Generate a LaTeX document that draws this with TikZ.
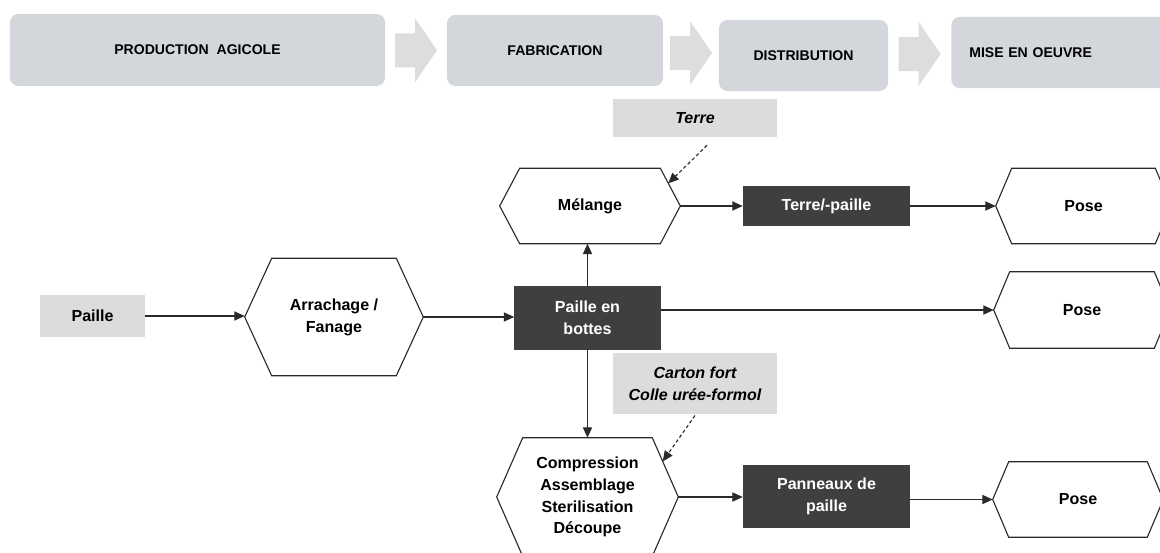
\documentclass[tikz,border=0pt]{standalone}
\usepackage{fontspec}
\setmainfont{Liberation Sans}
\usepackage{tikz}
\usetikzlibrary{calc,positioning,arrows.meta}
\definecolor{StageGray}{HTML}{D3D7DB}
\definecolor{StageArrow}{HTML}{DDDDDD}
\definecolor{InputGray}{HTML}{DCDCDC}
\definecolor{ProductDark}{HTML}{3F3F3F}
\definecolor{LineDark}{HTML}{2A2A2A}

\newcommand{\bodyfont}{\fontsize{11.4}{15.5}\selectfont\bfseries}
\newcommand{\stagefont}{\fontsize{10}{12}\selectfont\bfseries}

\tikzset{
  stage/.style={rounded corners=6pt, fill=StageGray, font=\stagefont, inner sep=0pt, align=center},
  inputbox/.style={fill=InputGray, font=\bodyfont, inner sep=0pt, align=center},
  productbox/.style={fill=ProductDark, text=white, font=\bodyfont, inner sep=0pt, align=center},
  hexnode/.style={font=\bodyfont, inner sep=0pt, align=center},
  hexline/.style={draw=LineDark, line width=0.8pt},
  flow/.style={draw=LineDark, line width=0.8pt, -{Triangle[length=2.6mm,width=2.3mm]}},
  inputflow/.style={flow, dash pattern=on 2.4pt off 1.8pt}
}

% hexagon outline drawn round a plain node
\newcommand{\hexoutline}[2]{%
  \draw[hexline] (#1.west) -- ([xshift=#2]#1.north west) -- ([xshift=-#2]#1.north east)
    -- (#1.east) -- ([xshift=-#2]#1.south east) -- ([xshift=#2]#1.south west) -- cycle;
  \coordinate (#1-ne) at ($([xshift=-#2]#1.north east)!0.4!(#1.east)$);}

% grey block arrow between two stages
\newcommand{\stagearrow}[3]{%
  \coordinate (m) at ($(#1.east)!0.5!(#2.west)$);
  \fill[StageArrow] ($(m)+(-21,-17)$) -- ($(m)+(-1,-17)$) -- ($(m)+(-1,-32)$) -- ($(m)+(21,#3)$)
    -- ($(m)+(-1,32)$) -- ($(m)+(-1,17)$) -- ($(m)+(-21,17)$) -- cycle;}

\begin{document}
\begin{tikzpicture}[x=0.025cm,y=-0.025cm]
  \useasboundingbox (0,0) rectangle (1160,553);

  \node[stage, minimum width=9.375cm, minimum height=1.8cm] (prod) at (197.5,50) {PRODUCTION\ \ AGICOLE};
  \node[stage, minimum width=5.4cm, minimum height=1.775cm] (fab) at (555,50.5) {FABRICATION};
  \node[stage, minimum width=4.225cm, minimum height=1.775cm] (dist) at (803.5,55.5) {DISTRIBUTION};
  \node[
    stage,
    anchor=west,
    inner xsep=0.45cm,
    text width=4.7cm,
    align=left,
    minimum height=1.775cm
  ] (mise) at (951,52.5) {MISE EN OEUVRE};

  \stagearrow{prod}{fab}{0}
  \stagearrow{fab}{dist}{0}
  \stagearrow{dist}{mise}{0}

  \node[inputbox, minimum width=4.1cm, minimum height=0.95cm] (terre) at (695,118) {\itshape Terre};
  \node[inputbox, minimum width=4.1cm, minimum height=1.525cm] (carton) at (695,383.5) {\itshape Carton fort\\\itshape Colle urée-formol};
  \node[inputbox, minimum width=2.625cm, minimum height=1.025cm] (paille) at (92.5,316) {Paille};

  \node[hexnode, minimum width=4.5cm, minimum height=1.875cm] (mel) at (590,206) {Mélange};
  \node[hexnode, minimum width=4.45cm, minimum height=2.925cm] (arr) at (334,317) {Arrachage /\\Fanage};
  \node[hexnode, minimum width=4.525cm, minimum height=2.95cm] (comp) at (587.5,497) {Compression\\Assemblage\\Sterilisation\\Découpe};
  \node[hexnode, minimum width=4.375cm, minimum height=1.875cm] (pose1) at (1083.5,206) {Pose};
  \node[hexnode, minimum width=4.4cm, minimum height=1.9cm] (pose2) at (1082,310) {Pose};
  \node[hexnode, minimum width=4.25cm, minimum height=1.875cm] (pose3) at (1078,499.5) {Pose};
  \hexoutline{mel}{0.5cm}
  \hexoutline{arr}{0.675cm}
  \hexoutline{comp}{0.65cm}
  \hexoutline{pose1}{0.4cm}
  \hexoutline{pose2}{0.4cm}
  \hexoutline{pose3}{0.4cm}

  \node[productbox, minimum width=3.65cm, minimum height=1.6cm] (bottes) at (587.5,318) {Paille en\\bottes};
  \node[productbox, minimum width=4.175cm, minimum height=1.0cm] (tp) at (826.5,206) {Terre/-paille};
  \node[productbox, minimum width=4.175cm, minimum height=1.575cm] (pan) at (826.5,496.5) {Panneaux de\\paille};

  \draw[flow] (paille.east) -- (paille.east -| arr.west);
  \draw[flow] (arr.east) -- (arr.east -| bottes.west);
  \draw[flow] (bottes.north) -- (bottes.north |- mel.south);
  \draw[flow] (bottes.south) -- (bottes.south |- comp.north);
  \draw[flow] (mel.east) -- (mel.east -| tp.west);
  \draw[flow] (tp.east) -- (tp.east -| pose1.west);
  \draw[flow] (bottes.east |- pose2.west) -- (pose2.west);
  \draw[flow] (comp.east) -- (comp.east -| pan.west);
  \draw[flow] (pan.east |- pose3.west) -- (pose3.west);

  \draw[inputflow] ([xshift=0.3cm,yshift=-0.2cm]terre.south) -- (mel-ne);
  \draw[inputflow] ([yshift=-0.03cm]carton.south) -- (comp-ne);
\end{tikzpicture}
\end{document}
